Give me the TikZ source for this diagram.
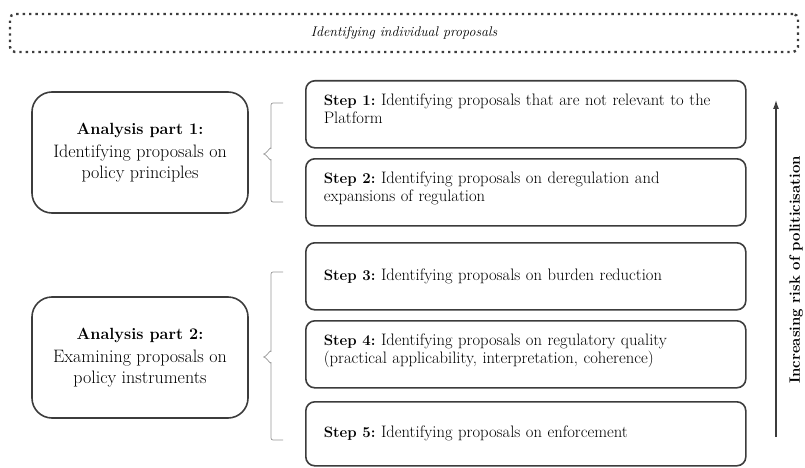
\documentclass[tikz,border=0pt]{standalone}
\usetikzlibrary{%
  arrows,%
  arrows.meta,%
  calc,%
  decorations.pathreplacing%
}
\definecolor{boxgray}{RGB}{60,60,60}
\definecolor{bracegray}{RGB}{150,150,150}
\newcommand{\lowpad}{\rule[-11pt]{0pt}{0pt}}
\newcommand{\steplabel}[1]{{\fontsize{15}{18}\selectfont\bfseries #1}}
\newcommand{\partlabel}[1]{{\fontsize{16.2}{18}\selectfont\bfseries #1}}
\frenchspacing
\tikzset{>=latex}
\tikzset{stepbox/.style = {draw=boxgray, line width=1.6pt, rounded corners=9pt,
    anchor=north west, text width=404pt, inner xsep=18pt, align=left,
    minimum height=67pt, font=\fontsize{16.6}{18}\selectfont},%
  partbox/.style = {draw=boxgray, line width=1.6pt, rounded corners=20pt,
    minimum width=216pt, minimum height=121pt, align=center,
    font=\fontsize{18}{21}\selectfont},%
  stagebrace/.style = {draw=bracegray, line width=0.7pt, rounded corners=2pt}}

\begin{document}
\begin{tikzpicture}[x=1pt,y=-1pt]
  \useasboundingbox (0,0) rectangle (805,468);
  % header
  \node[draw=boxgray, line width=2.4pt, dash pattern=on 2.4pt off 4pt,
    rounded corners=5pt, minimum width=788pt, minimum height=38pt,
    font=\fontsize{14}{16}\selectfont\itshape] (individual) at (404,33)
    {Identifying individual proposals};
  % analysis parts
  \node[partbox] (part1) at (140,152.5)
    {\partlabel{Analysis part 1:}\\[2pt]Identifying proposals on\\policy principles};
  \node[partbox] (part2) at (140,357.5)
    {\partlabel{Analysis part 2:}\\[2pt]Examining proposals on\\policy instruments};
  % steps
  \node[stepbox] (step1) at (305,80)
    {\steplabel{Step 1:} Identifying proposals that are not relevant to the\\Platform\lowpad};
  \node[stepbox] (step2) at (305,158)
    {\steplabel{Step 2:} Identifying proposals on deregulation and\\expansions of regulation\lowpad};
  \node[stepbox] (step3) at (305,242)
    {\steplabel{Step 3:} Identifying proposals on burden reduction};
  \node[stepbox] (step4) at (305,320)
    {\steplabel{Step 4:} Identifying proposals on regulatory quality\\(practical applicability, interpretation, coherence)\lowpad};
  \node[stepbox, minimum height=64pt] (step5) at (305,401)
    {\steplabel{Step 5:} Identifying proposals on enforcement};
  % braces
  \coordinate (b1top) at (283,103);
  \coordinate (b1tip) at (262,154);
  \coordinate (b1bot) at (283,202);
  \coordinate (b2top) at (283,272);
  \coordinate (b2tip) at (262,357);
  \coordinate (b2bot) at (283,440);
  \draw[stagebrace] (b1top) -| ($(b1tip)+(9,-4)$) to[out=90,in=0] (b1tip)
    to[out=0,in=-90] ($(b1tip)+(9,4)$) |- (b1bot);
  \draw[stagebrace] (b2top) -| ($(b2tip)+(9,-4)$) to[out=90,in=0] (b2tip)
    to[out=0,in=-90] ($(b2tip)+(9,4)$) |- (b2bot);
  % risk arrow
  \coordinate (riskstart) at (776,437);
  \coordinate (riskend) at (776,100);
  \draw[-{Latex[length=9pt,width=6pt]}, draw=boxgray, fill=boxgray, line width=1.2pt]
    (riskstart) -- (riskend);
  \node[rotate=90, font=\fontsize{15}{17}\selectfont\bfseries] (risk) at (796,270)
    {Increasing risk of politicisation};
\end{tikzpicture}
\end{document}
